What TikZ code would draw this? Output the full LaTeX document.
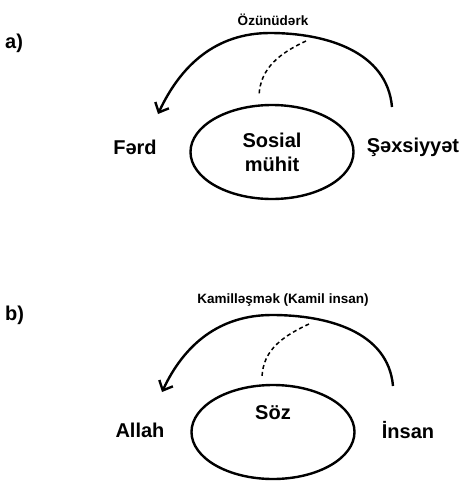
\documentclass[tikz,border=0pt]{standalone}
\usepackage{fontspec}
\setmainfont{Liberation Sans}
\usetikzlibrary{arrows.meta,shapes.geometric}

\tikzset{
  bigarc/.style={line width=2.4pt, -{Straight Barb[length=8pt,width=15pt,line width=2.4pt]}},
  dashlink/.style={line width=1.5pt, dash pattern=on 4pt off 3pt},
  mainlbl/.style={font=\fontsize{20}{22}\selectfont\bfseries, inner sep=0pt},
  toplbl/.style={font=\fontsize{13.5}{15}\selectfont\bfseries, inner sep=0pt},
  ovalbox/.style={draw, line width=2.4pt, ellipse, minimum width=163pt, minimum height=94pt, align=center, font=\fontsize{20}{24}\selectfont\bfseries}
}

\begin{document}
\begin{tikzpicture}[x=1pt, y=-1pt]
			%%%%% FRAME %%%%%
			\useasboundingbox (0, 0) rectangle (473, 483);
			
			%%%%% PART A %%%%%
			\node[mainlbl, anchor=west] (alabel) at (5, 43) {a)};
			\node[toplbl] (atitle) at (273, 20) {Özünüdərk};
			
			\node[ovalbox] (amuhit) at (272, 152) {Sosial\\mühit};
			\node[mainlbl] (aferd) at (135, 147) {Fərd};
			\node[mainlbl] (asexs) at (413, 147) {Şəxsiyyət};
			
			\coordinate (astart) at (392, 107);
			\coordinate (atop) at (270, 33);
			\coordinate (aend) at (158, 114);
			\draw[bigarc] (astart) to[out=95, in=0] (atop) to[out=180, in=65] (aend);
			
			\coordinate (adash1) at (306, 41);
			\coordinate (adash2) at (259, 96);
			\draw[dashlink] (adash1) to[out=205, in=88] (adash2);
			
			%%%%% PART B %%%%%
			\node[mainlbl, anchor=west] (blabel) at (5, 315) {b)};
			\node[toplbl] (btitle) at (283, 300) {Kamilləşmək (Kamil insan)};
			
			\node[ovalbox] (bsoz) at (273, 432) {Söz\\[14pt]};
			\node[mainlbl] (ballah) at (140, 430) {Allah};
			\node[mainlbl] (binsan) at (408, 430) {İnsan};
			
			\coordinate (bstart) at (393, 386);
			\coordinate (btop) at (272, 315);
			\coordinate (bend) at (162, 392);
			\draw[bigarc] (bstart) to[out=95, in=0] (btop) to[out=180, in=65] (bend);
			
			\coordinate (bdash1) at (309, 324);
			\coordinate (bdash2) at (262, 377);
			\draw[dashlink] (bdash1) to[out=205, in=88] (bdash2);
			
			%%%%% END %%%%%
\end{tikzpicture}
\end{document}
